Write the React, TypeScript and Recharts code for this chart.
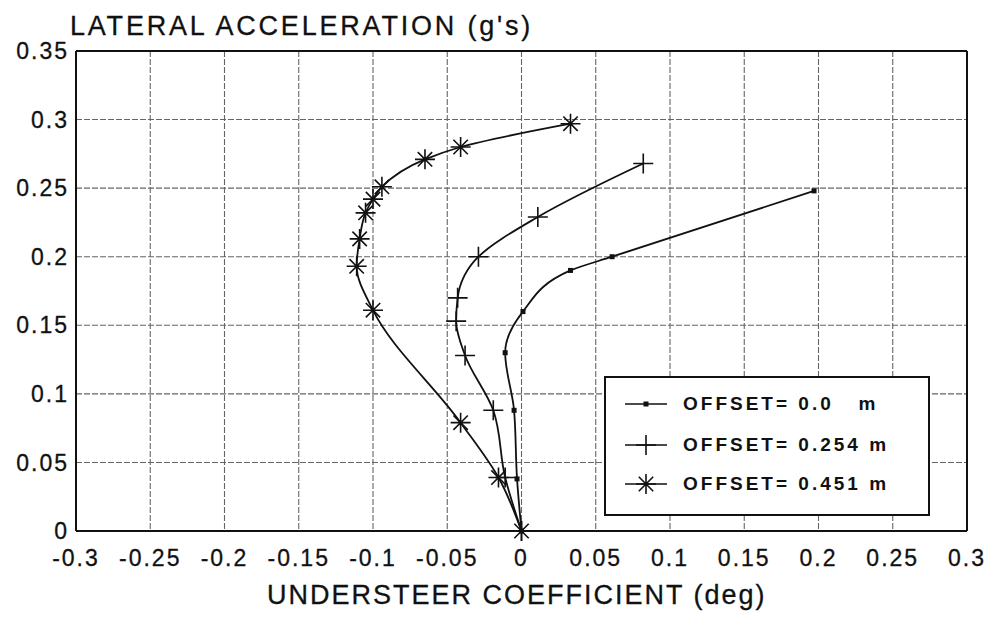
import { LineChart, Line, XAxis, YAxis, CartesianGrid, ReferenceLine, Legend } from 'recharts';

// lateral acceleration (g's) -> understeer coefficient (deg), one array pair per offset
const offset0Y = [0, 0.038, 0.088, 0.13, 0.16, 0.19, 0.2, 0.248];
const offset0X = [0, -0.003, -0.005, -0.011, 0.001, 0.033, 0.061, 0.197];

const offset254Y = [0, 0.039, 0.088, 0.128, 0.153, 0.17, 0.2, 0.229, 0.268];
const offset254X = [0, -0.011, -0.019, -0.038, -0.044, -0.043, -0.029, 0.011, 0.082];

const offset451Y = [0, 0.039, 0.079, 0.161, 0.193, 0.213, 0.232, 0.242, 0.251, 0.271, 0.28, 0.297];
const offset451X = [0, -0.0155, -0.041, -0.1, -0.111, -0.109, -0.105, -0.1, -0.094, -0.065, -0.041, 0.033];

const xTicks = [-0.3, -0.25, -0.2, -0.15, -0.1, -0.05, 0, 0.05, 0.1, 0.15, 0.2, 0.25, 0.3];
const yTicks = [0, 0.05, 0.1, 0.15, 0.2, 0.25, 0.3, 0.35];

const seriesNames = ['OFFSET= 0.0   m', 'OFFSET= 0.254 m', 'OFFSET= 0.451 m'];

const toPoints = (xs: number[], ys: number[]) => ys.map((y, i) => ({ y, x: xs[i] }));

const FONT = '"Liberation Sans", Arial, Helvetica, sans-serif';

const SquareMark = ({ cx, cy }: { cx: number; cy: number }) => (
  <rect x={cx - 2.5} y={cy - 2.5} width={5} height={5} fill="#111" />
);

const PlusMark = ({ cx, cy }: { cx: number; cy: number }) => (
  <path d={`M${cx - 10},${cy}H${cx + 10}M${cx},${cy - 10}V${cy + 10}`} stroke="#111" strokeWidth={1.6} fill="none" />
);

const StarMark = ({ cx, cy }: { cx: number; cy: number }) => {
  const r = 10;
  const d = r * 0.72;
  return (
    <path
      d={`M${cx - r},${cy}H${cx + r}M${cx},${cy - r}V${cy + r}M${cx - d},${cy - d}L${cx + d},${cy + d}M${cx - d},${cy + d}L${cx + d},${cy - d}`}
      stroke="#111"
      strokeWidth={1.6}
      fill="none"
    />
  );
};

const marks = [SquareMark, PlusMark, StarMark];
const rowY = [28, 69, 108];

const LegendBox = () => (
  <div
    style={{
      position: 'absolute',
      left: 596,
      top: 368,
      width: 326,
      height: 140,
      boxSizing: 'border-box',
      border: '2px solid #111',
      background: '#fff',
      fontFamily: FONT,
    }}
  >
    {seriesNames.map((name, i) => {
      const M = marks[i];
      return (
        <div key={name}>
          <svg width={52} height={30} style={{ position: 'absolute', left: 14, top: rowY[i] - 2 - 15 }}>
            <line x1={5} x2={47} y1={15} y2={15} stroke="#111" strokeWidth={1.6} />
            <M cx={26} cy={15} />
          </svg>
          <span
            style={{
              position: 'absolute',
              left: 77,
              top: rowY[i] - 2 - 12,
              lineHeight: '24px',
              fontSize: 19,
              fontWeight: 'bold',
              letterSpacing: 3,
              color: '#111',
              whiteSpace: 'pre',
            }}
          >
            {name}
          </span>
        </div>
      );
    })}
  </div>
);

const labelStyle = {
  position: 'absolute' as const,
  fontFamily: FONT,
  fontSize: 27,
  lineHeight: '27px',
  color: '#111',
  whiteSpace: 'nowrap' as const,
  WebkitTextStroke: '0.3px #111',
};

export default function App() {
  const W = 981;
  const H = 608;
  const tickStyle = { fontSize: 23, fill: '#111', fontFamily: FONT, letterSpacing: 2, stroke: '#111', strokeWidth: 0.3 };
  return (
    <div style={{ position: 'relative', width: W, height: H, background: '#fff' }}>
      <div style={{ ...labelStyle, left: 62, top: 5, letterSpacing: 2.8 }}>LATERAL ACCELERATION (g's)</div>
      <div style={{ ...labelStyle, left: 259, top: 574, letterSpacing: 2 }}>UNDERSTEER COEFFICIENT (deg)</div>
      <LineChart layout="vertical" width={W} height={H} margin={{ top: 43, right: 22, bottom: 25, left: 0 }}>
        <CartesianGrid stroke="#666" strokeDasharray="6 2" strokeWidth={1.1} />
        <XAxis
          type="number"
          domain={[-0.3, 0.3]}
          ticks={xTicks}
          interval={0}
          height={60}
          tickLine={false}
          tickMargin={13}
          axisLine={{ stroke: '#111', strokeWidth: 2 }}
          tick={tickStyle}
        />
        <YAxis
          type="number"
          dataKey="y"
          domain={[0, 0.35]}
          ticks={yTicks}
          interval={0}
          reversed
          width={68}
          tickLine={false}
          tickMargin={1}
          axisLine={{ stroke: '#111', strokeWidth: 2 }}
          tick={tickStyle}
        />
        <ReferenceLine x={0.3} stroke="#111" strokeWidth={2} />
        <ReferenceLine y={0.35} stroke="#111" strokeWidth={2} />
        <Line
          data={toPoints(offset0X, offset0Y)}
          dataKey="x"
          name={seriesNames[0]}
          type="monotone"
          stroke="#111"
          strokeWidth={1.8}
          dot={(p: any) => <SquareMark key={p.index} cx={p.cx} cy={p.cy} />}
          activeDot={false}
          isAnimationActive={false}
        />
        <Line
          data={toPoints(offset254X, offset254Y)}
          dataKey="x"
          name={seriesNames[1]}
          type="monotone"
          stroke="#111"
          strokeWidth={1.8}
          dot={(p: any) => <PlusMark key={p.index} cx={p.cx} cy={p.cy} />}
          activeDot={false}
          isAnimationActive={false}
        />
        <Line
          data={toPoints(offset451X, offset451Y)}
          dataKey="x"
          name={seriesNames[2]}
          type="monotone"
          stroke="#111"
          strokeWidth={1.8}
          dot={(p: any) => <StarMark key={p.index} cx={p.cx} cy={p.cy} />}
          activeDot={false}
          isAnimationActive={false}
        />
        <Legend content={() => <LegendBox />} wrapperStyle={{ position: 'absolute', left: 0, top: 0, width: 0, height: 0 }} />
      </LineChart>
    </div>
  );
}
